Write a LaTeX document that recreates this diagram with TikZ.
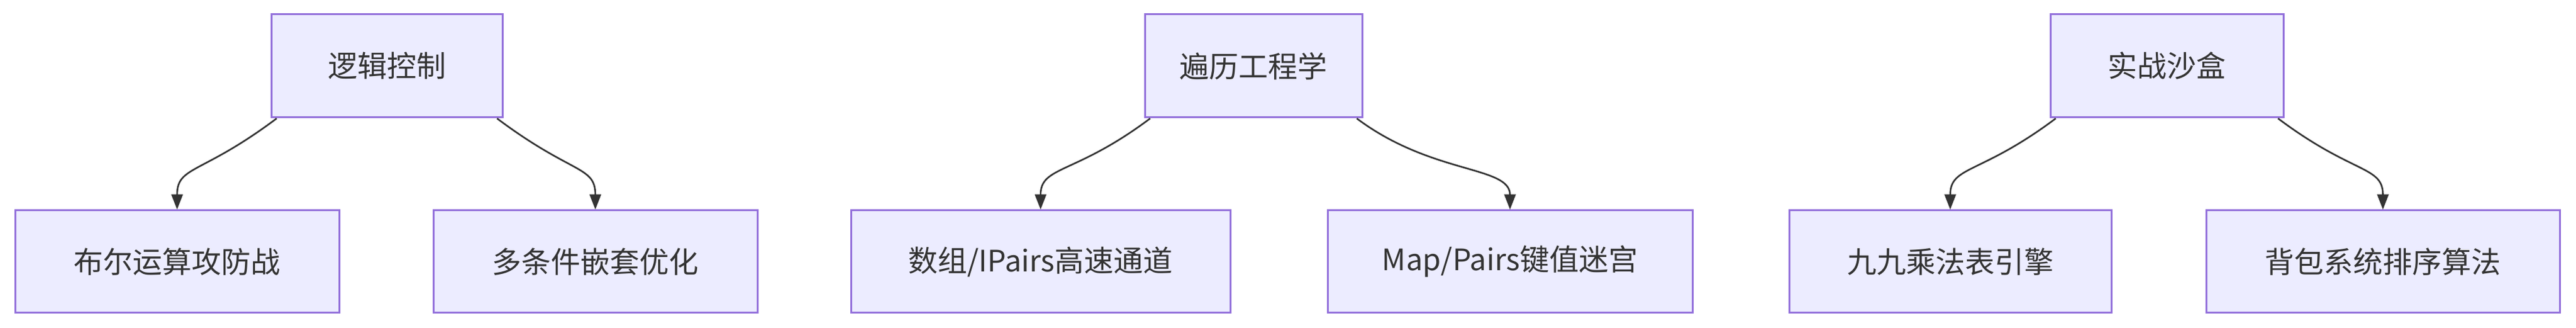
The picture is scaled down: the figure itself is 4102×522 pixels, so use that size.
\documentclass[tikz,border=0pt]{standalone}
\usepackage{fontspec}
\newfontfamily\cjk{Noto Sans CJK SC}
\usetikzlibrary{arrows.meta}
\definecolor{boxfill}{HTML}{ECECFF}
\definecolor{boxline}{HTML}{9370DB}
\definecolor{arr}{HTML}{333333}
\tikzset{
 box/.style={draw=boxline,fill=boxfill,line width=1.5pt,inner sep=0pt,font=\cjk\fontsize{23.5}{28}\selectfont,text=arr},
 conn/.style={draw=arr,line width=1.3pt,-{Triangle[length=12pt,width=9pt]}}
}
\newcommand{\bx}[6]{\node[box,minimum width=#4*0.5pt-#3*0.5pt,minimum height=#6*0.5pt-#5*0.5pt] (#1) at ({(#3+#4)/2},{(#5+#6)/2}) {#2};}
\begin{document}
\begin{tikzpicture}[x=0.5pt,y=-0.5pt]
\useasboundingbox (0,0) rectangle (4102,522);
\bx{a}{逻辑控制}{432}{800}{23}{187}
\bx{a1}{布尔运算攻防战}{24}{540}{335}{498}
\bx{a2}{多条件嵌套优化}{690}{1206}{335}{498}
\bx{b}{遍历工程学}{1823}{2169}{23}{187}
\bx{b1}{数组/IPairs高速通道}{1355}{1959}{335}{498}
\bx{b2}{Map/Pairs键值迷宫}{2114}{2695}{335}{498}
\bx{c}{实战沙盒}{3265}{3636}{23}{187}
\bx{c1}{九九乘法表引擎}{2849}{3362}{335}{498}
\bx{c2}{背包系统排序算法}{3513}{4076}{335}{498}
\foreach \p/\q in {a/a1,b/b1,c/c1}{
 \draw[conn] ([xshift=5pt]\p.south west) .. controls +(-60pt,-45pt) and +(0,35pt) .. (\q.north);}
\foreach \p/\q in {a/a2,b/b2,c/c2}{
 \draw[conn] ([xshift=-5pt]\p.south east) .. controls +(60pt,-45pt) and +(0,35pt) .. (\q.north);}
\end{tikzpicture}
\end{document}
